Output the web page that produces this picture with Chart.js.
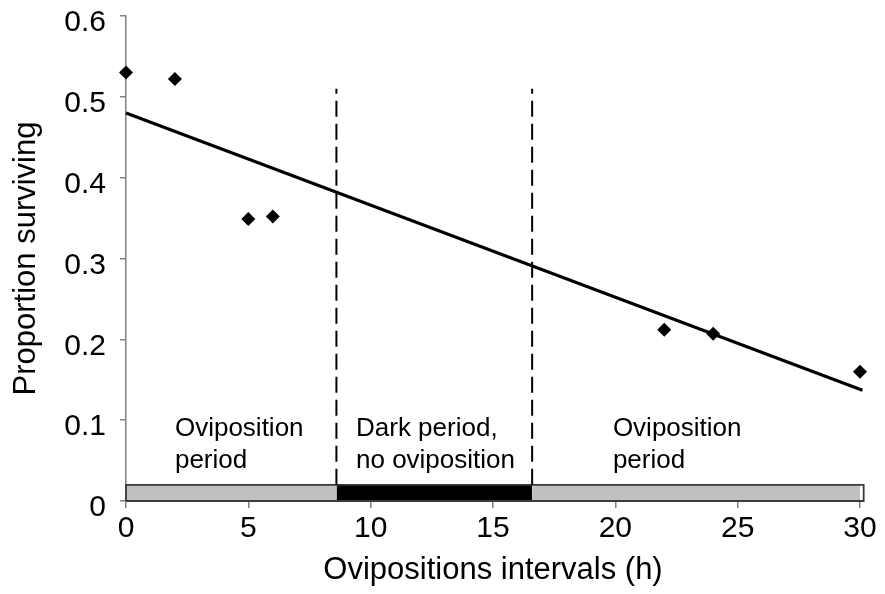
<!DOCTYPE html>
<html><head><meta charset="utf-8">
<script src="https://cdn.jsdelivr.net/npm/chart.js@4/dist/chart.umd.min.js"></script>
<style>html,body{margin:0;padding:0;background:#fff}#wrap{width:885px;height:594px}</style>
</head><body><div id="wrap"><canvas id="c" width="885" height="594"></canvas></div>
<script>
// ---- data ----
const hours = [0, 2, 5, 6, 22, 24, 30];
const survival = [0.530, 0.522, 0.349, 0.352, 0.212, 0.207, 0.160];
const trendX = [0, 30.1];
const trendY = [0.480, 0.137];
const periodBounds = [8.6, 16.6];
const periodLineTop = 0.51;
const barStarts = [0, 8.6, 16.6];
const barEnds = [8.6, 16.6, 30.15];
const barHeight = 0.02;
const barFills = ['#c0c0c0', '#000000', '#c0c0c0'];
const periodLabels = [["Oviposition", "period"], ["Dark period,", "no oviposition"], ["Oviposition", "period"]];
const periodLabelX = [2.0, 9.4, 19.9];
const periodLabelY = 0.080;
const xTickValues = [0, 5, 10, 15, 20, 25, 30];
const yTickValues = [0, 0.1, 0.2, 0.3, 0.4, 0.5, 0.6];

const FONT = "'Liberation Sans', Arial, sans-serif";

const datasets = [];
datasets.push({
  label: 'Observed', data: hours.map((h, i) => ({x: h, y: survival[i]})),
  showLine: false, pointStyle: 'rectRot', pointRadius: 7, pointHoverRadius: 7,
  backgroundColor: '#000', borderColor: '#000', borderWidth: 0, clip: false
});
datasets.push({
  label: 'Trend', data: trendX.map((x, i) => ({x: x, y: trendY[i]})),
  showLine: true, borderColor: '#000', borderWidth: 3, pointRadius: 0, fill: false, clip: false
});
periodBounds.forEach(b => datasets.push({
  label: 'bound', data: [{x: b, y: barHeight}, {x: b, y: periodLineTop}],
  showLine: true, borderColor: '#000', borderWidth: 2, borderDash: [16, 7], pointRadius: 0, fill: false
}));
// bar outline
const barFirst = barStarts[0], barLast = barEnds[barEnds.length - 1];
datasets.push({
  label: 'barOutline',
  data: [{x: barFirst, y: 0}, {x: barFirst, y: barHeight}, {x: barLast, y: barHeight}, {x: barLast, y: 0}, {x: barFirst, y: 0}],
  showLine: true, borderColor: '#3a3a3a', borderWidth: 1.8, pointRadius: 0, fill: false, tension: 0, clip: false
});
// bar fills
barStarts.forEach((s, i) => datasets.push({
  label: 'bar', data: [{x: s, y: barHeight}, {x: barEnds[i], y: barHeight}],
  showLine: true, borderWidth: 0, borderColor: 'rgba(0,0,0,0)', backgroundColor: barFills[i], fill: 'origin',
  pointRadius: 0, tension: 0, clip: false
}));

const labelPlugin = {
  id: 'periodLabels',
  afterDatasetsDraw(chart) {
    const {ctx, scales: {x, y}} = chart;
    ctx.save();
    ctx.font = "26px " + FONT;
    ctx.fillStyle = '#000';
    ctx.textAlign = 'left';
    ctx.textBaseline = 'alphabetic';
    periodLabels.forEach((lines, i) => {
      const px = x.getPixelForValue(periodLabelX[i]);
      const py = y.getPixelForValue(periodLabelY);
      lines.forEach((t, j) => ctx.fillText(t, px, py + j * 32));
    });
    ctx.restore();
  }
};

new Chart(document.getElementById('c'), {
  type: 'scatter',
  data: {datasets},
  options: {
    responsive: false, animation: false, devicePixelRatio: 1,
    layout: {padding: {top: 16, right: 25, left: 0, bottom: 0}},
    plugins: {legend: {display: false}, tooltip: {enabled: false}},
    scales: {
      x: {
        type: 'linear', min: 0, max: 30,
        afterBuildTicks: s => { s.ticks = xTickValues.map(v => ({value: v})); },
        afterFit: s => { s.height = 93; },
        grid: {display: true, drawOnChartArea: false, drawTicks: true, tickLength: 7, color: '#808080', lineWidth: 1.5},
        border: {display: true, color: '#808080', width: 1.5},
        ticks: {font: {family: FONT, size: 30}, color: '#000', padding: 3, maxRotation: 0},
        title: {display: true, text: 'Ovipositions intervals (h)', font: {family: FONT, size: 31}, color: '#000', padding: {top: 0, bottom: 5}}
      },
      y: {
        type: 'linear', min: 0, max: 0.6,
        afterBuildTicks: s => { s.ticks = yTickValues.map(v => ({value: v})); },
        afterFit: s => { s.width = 126; s.paddingTop = 0; s.paddingBottom = 0; },
        grid: {display: true, drawOnChartArea: false, drawTicks: true, tickLength: 6, color: '#808080', lineWidth: 1.5},
        border: {display: true, color: '#808080', width: 1.5},
        ticks: {font: {family: FONT, size: 30, lineHeight: 1.0}, color: '#000', padding: 14, labelOffset: 7,
          callback: v => v === 0 ? '0' : Number(v).toFixed(1)},
        title: {display: true, text: 'Proportion surviving', font: {family: FONT, size: 31}, color: '#000', padding: {top: 8, bottom: 0}}
      }
    }
  },
  plugins: [labelPlugin]
});
</script></body></html>
